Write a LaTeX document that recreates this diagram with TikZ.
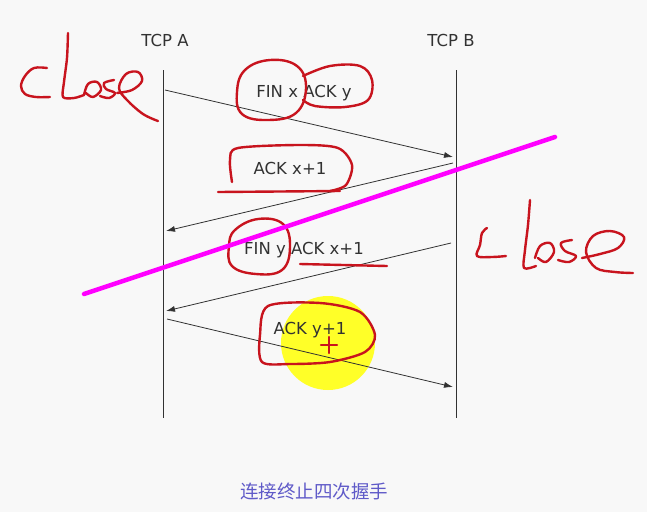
\documentclass[tikz,border=0pt]{standalone}
\usepackage{fontspec}
\setmainfont{DejaVu Sans}
\newfontfamily\cjk{Noto Sans CJK SC}
\usetikzlibrary{arrows.meta}
\definecolor{bg}{RGB}{248,248,248}
\definecolor{txt}{RGB}{50,50,50}
\definecolor{pen}{RGB}{200,20,30}
\definecolor{mag}{RGB}{255,0,255}
\definecolor{cap}{RGB}{95,90,200}
\definecolor{hl}{RGB}{255,255,40}
\tikzset{
  life/.style={draw=txt, line width=0.9pt},
  msg/.style={draw=txt, line width=0.8pt, -{Latex[length=9pt,width=6pt]}},
  lbl/.style={text=txt, font=\fontsize{16.5}{18}\selectfont, inner sep=0pt},
  hand/.style={draw=pen, line width=2.4pt, line cap=round, line join=round},
}
\begin{document}
\begin{tikzpicture}[x=1pt,y=-1pt]
\fill[bg] (0,0) rectangle (647,512);
\useasboundingbox (0,0) rectangle (647,512);
% yellow highlight
\fill[hl] (328,343) circle[radius=47];
% lifelines
\coordinate (atop) at (163,70); \coordinate (abot) at (163,418);
\coordinate (btop) at (456,70); \coordinate (bbot) at (456,418);
\draw[life] (atop) -- (abot);
\draw[life] (btop) -- (bbot);
\node[lbl] (ta) at (165,40) {TCP A};
\node[lbl] (tb) at (451,40) {TCP B};
% message endpoints
\coordinate (a1) at (165,90);  \coordinate (b1) at (453,157);
\coordinate (b2) at (453,163); \coordinate (a2) at (166,231);
\coordinate (b3) at (451,243); \coordinate (a3) at (166,311);
\coordinate (a4) at (167,319); \coordinate (b4) at (453,387);
\draw[msg] (a1) -- (b1);
\draw[msg] (b2) -- (a2);
\draw[msg] (b3) -- (a3);
\draw[msg] (a4) -- (b4);
% labels
\node[lbl] (m1) at (304,93) {FIN x ACK y};
\node[lbl] (m2) at (290,168) {ACK x+1};
\node[lbl] (m3) at (304,250) {FIN y ACK x+1};
\node[lbl] (m4) at (310,330) {ACK y+1};
% red annotations
\draw[hand] plot[smooth cycle, tension=0.7] coordinates {(245,70) (270,60) (297,66) (306,88) (296,113) (268,120) (242,114) (237,92)};
\draw[hand] plot[smooth, tension=0.6] coordinates {(303,76) (330,66) (360,66) (372,80) (368,100) (345,107) (315,106) (303,100)};
\draw[hand] plot[smooth, tension=0.5] coordinates {(232,182) (230,160) (238,148) (300,145) (338,148) (352,165) (346,185) (330,191)};
\draw[hand] (218,192) -- (340,191);
\draw[hand] plot[smooth cycle, tension=0.7] coordinates {(235,230) (258,219) (283,224) (290,247) (282,270) (256,274) (232,266) (229,246)};
\draw[hand] (300,264) -- (387,266);
\draw[hand] plot[smooth cycle, tension=0.5] coordinates {(268,306) (320,303) (360,312) (375,335) (365,352) (330,362) (290,364) (262,362) (260,335)};
\draw[hand] (321,345) -- (337,345);
\draw[hand] (329,337) -- (329,353);
% left "close"
\draw[hand] plot[smooth, tension=0.6] coordinates {(47,68) (34,68) (25,76) (21,86) (25,94) (36,97) (50,97)};
\draw[hand] plot[smooth, tension=0.5] coordinates {(68,33) (67,58) (64,82) (63,97) (74,98) (84,95)};
\draw[hand] plot[smooth, tension=0.6] coordinates {(84,95) (88,84) (97,82) (101,90) (93,97) (86,93)};
\draw[hand] plot[smooth, tension=0.6] coordinates {(114,80) (104,83) (106,89) (115,93) (109,98) (100,96)};
\draw[hand] plot[smooth, tension=0.6] coordinates {(117,93) (132,90) (142,81) (138,72) (126,74) (119,88) (127,100) (143,114) (158,121)};
% right "close"
\draw[hand] plot[smooth, tension=0.6] coordinates {(487,228) (482,233) (480,245) (477,256) (492,257) (506,256)};
\draw[hand] plot[smooth, tension=0.5] coordinates {(530,200) (528,225) (525,250) (524,268) (536,266)};
\draw[hand] plot[smooth, tension=0.6] coordinates {(535,258) (540,246) (550,243) (554,252) (546,262) (538,258)};
\draw[hand] plot[smooth, tension=0.6] coordinates {(572,240) (561,243) (565,251) (576,256) (569,262) (558,260)};
\draw[hand] plot[smooth, tension=0.6] coordinates {(582,258) (600,254) (618,248) (624,237) (610,231) (593,236) (586,252) (596,268) (615,272) (633,273)};
% magenta strike line
\coordinate (s1) at (84,294); \coordinate (s2) at (555,137);
\draw[mag, line width=4.5pt, line cap=round] (s1) -- (s2);
% caption
\node[text=cap, font=\cjk\fontsize{18.5}{20}\selectfont, inner sep=0pt] (cap) at (314,491) {连接终止四次握手};
\end{tikzpicture}
\end{document}
